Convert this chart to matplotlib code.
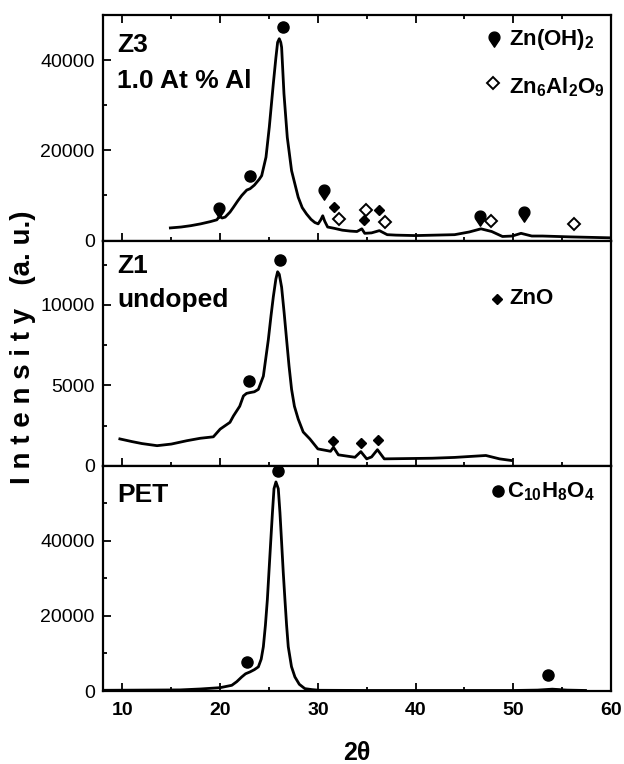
import numpy as np
import matplotlib
matplotlib.use("Agg")
from matplotlib import pyplot as plt
from matplotlib.path import Path
from matplotlib.ticker import MultipleLocator

# ---- values ----
# Z3 (1.0 At % Al)
z3_two_theta = [14.9, 16.0, 17.0, 18.0, 19.0, 19.66, 19.93, 20.2, 20.51, 21.0, 21.36, 21.8,
                22.21, 22.72, 23.06, 23.5, 24.0, 24.25, 24.69, 25.03, 25.44, 25.7, 25.88, 26.05,
                26.2, 26.29, 26.53, 26.87, 27.31, 27.99, 28.4, 28.84, 29.3, 29.69, 30.03, 30.3,
                30.5, 30.7, 31.0, 31.7, 32.5, 33.3, 34.0, 34.5, 34.8, 35.5, 36.3, 37.1, 38.0,
                40.0, 42.0, 44.0, 45.5, 46.7, 47.8, 48.9, 49.9, 50.8, 51.9, 53.0, 56.0, 60.0]
z3_intensity = [2800, 3000, 3300, 3700, 4200, 4600, 5400, 5000, 5200, 6300, 7400, 8800,
                10000, 11200, 11500, 12300, 13600, 14400, 18500, 25200, 34800, 40500, 44000, 44800,
                44000, 42900, 32600, 22900, 15500, 9600, 7300, 5900, 4700, 4000, 3700, 4600,
                5500, 4300, 3000, 2700, 2300, 2100, 2000, 2600, 1600, 1700, 2200, 1300, 1200,
                1100, 1200, 1300, 1900, 2600, 2000, 900, 1000, 1600, 1000, 1000, 800, 600]

# Z1 (undoped)
z1_two_theta = [9.73, 11.0, 12.0, 13.54, 15.0, 16.6, 17.96, 19.3, 20.0, 21.0, 21.36, 22.0,
                22.38, 22.7, 23.06, 23.5, 23.91, 24.42, 24.93, 25.2, 25.44, 25.7, 25.88, 26.05,
                26.29, 26.55, 26.8, 27.05, 27.31, 27.6, 27.99, 28.5, 29.18, 30.0, 30.88, 31.3,
                31.6, 32.1, 33.0, 33.8, 34.4, 35.0, 35.5, 36.1, 36.8, 38.0, 41.7, 44.0, 47.2,
                48.6, 49.8]
z1_intensity = [1670, 1500, 1380, 1250, 1350, 1560, 1710, 1800, 2280, 2700, 3100, 3700,
                4340, 4500, 4550, 4600, 4750, 5570, 7840, 9300, 10500, 11600, 12060, 11900,
                11100, 9500, 7840, 6200, 4750, 3700, 2900, 2100, 1670, 1050, 950, 900,
                1150, 680, 600, 530, 880, 430, 550, 1000, 430, 440, 470, 520, 640,
                430, 330]

# PET substrate
pet_two_theta = [8.1, 12.0, 15.9, 18.0, 20.0, 21.19, 21.7, 22.21, 22.6, 23.06, 23.5, 23.91,
                 24.2, 24.42, 24.63, 24.83, 25.0, 25.17, 25.35, 25.51, 25.71, 25.95, 26.12,
                 26.29, 26.46, 26.63, 26.8, 26.97, 27.3, 27.65, 28.1, 28.67, 29.4, 30.2, 35.0,
                 40.0, 45.0, 50.0, 52.5, 54.0, 55.5, 57.4]
pet_intensity = [200, 250, 300, 550, 900, 1530, 2500, 3760, 4600, 5100, 5700, 6440,
                 8500, 11800, 17500, 24350, 32000, 39580, 47500, 53900, 55700, 53900, 47500,
                 39580, 31500, 24350, 17500, 11800, 6500, 3760, 1800, 640, 380, 200, 150,
                 150, 150, 150, 250, 500, 250, 150]

# phase markers: (2theta, intensity)
z3_pet_x, z3_pet_y = [23.1, 26.4], [14300, 47500]
z3_znoh2_x, z3_znoh2_y = [19.9, 30.65, 46.6, 51.1], [7260, 11200, 5500, 6300]
z3_zno_x, z3_zno_y = [31.7, 34.7, 36.3], [7500, 4600, 6700]
z3_znal_x, z3_znal_y = [32.2, 34.9, 36.9, 47.7, 56.2], [4800, 6800, 4100, 4400, 3600]

z1_pet_x, z1_pet_y = [22.9, 26.1], [5270, 12800]
z1_zno_x, z1_zno_y = [31.6, 34.4, 36.2], [1560, 1420, 1600]

pet_pet_x, pet_pet_y = [22.7, 25.95, 53.6], [7800, 58500, 4200]

plt.rcParams["font.family"] = ["Liberation Sans", "DejaVu Sans"]
plt.rcParams["mathtext.fontset"] = "custom"
plt.rcParams["mathtext.rm"] = "Liberation Sans:bold"
plt.rcParams["mathtext.it"] = "Liberation Sans:bold"
plt.rcParams["mathtext.bf"] = "Liberation Sans:bold"


def pin_marker() -> Path:
    """Teardrop shaped marker: circle with a point underneath."""
    tip = 1.8
    a = np.degrees(np.arccos(1.0 / tip))
    angles = np.radians(np.linspace(-90 + a, 270 - a, 40))
    verts = [(0.0, -tip)] + list(zip(np.cos(angles), np.sin(angles))) + [(0.0, -tip)]
    return Path(verts, closed=True)


PIN = pin_marker()
LINE = dict(color="black", lw=2.0)
DOT = dict(ls="none", marker="o", ms=8, color="black")
PINM = dict(ls="none", marker=PIN, ms=14, color="black")
FDIA = dict(ls="none", marker="D", ms=5, color="black")
ODIA = dict(ls="none", marker="D", ms=6, mfc="white", mec="black", mew=1.4)
BIG = dict(fontsize=19, fontweight="bold")
LEG = dict(fontsize=16, fontweight="bold")

fig, axes = plt.subplots(3, 1, figsize=(6.24, 7.64), dpi=100, sharex=True)
fig.subplots_adjust(left=0.165, right=0.979, top=0.980, bottom=0.0955, hspace=0)
ax_z3, ax_z1, ax_pet = axes

for ax in axes:
    for sp in ax.spines.values():
        sp.set_linewidth(1.6)
    ax.set_xlim(8, 60)
    ax.xaxis.set_major_locator(MultipleLocator(10))
    ax.xaxis.set_minor_locator(MultipleLocator(5))
    ax.tick_params(which="both", direction="in", width=1.3)
    ax.tick_params(which="major", length=6)
    ax.tick_params(which="minor", length=3)
    ax.tick_params(axis="y", labelsize=14, pad=6)
ax_z3.tick_params(axis="x", which="both", top=True)
ax_pet.tick_params(axis="x", labelsize=14, pad=8)
for lab in ax_pet.get_xticklabels():
    lab.set_fontweight("bold")

# Z3 panel
ax_z3.plot(z3_two_theta, z3_intensity, **LINE)
ax_z3.plot(z3_pet_x, z3_pet_y, **DOT)
ax_z3.plot(z3_znoh2_x, z3_znoh2_y, **PINM)
ax_z3.plot(z3_zno_x, z3_zno_y, **FDIA)
ax_z3.plot(z3_znal_x, z3_znal_y, **ODIA)
ax_z3.set_ylim(0, 50000)
ax_z3.yaxis.set_major_locator(MultipleLocator(20000))
ax_z3.yaxis.set_minor_locator(MultipleLocator(10000))
ax_z3.text(0.028, 0.837, "Z3", transform=ax_z3.transAxes, **BIG)
ax_z3.text(0.028, 0.679, "1.0 At % Al", transform=ax_z3.transAxes, **BIG)
ax_z3.plot([0.770], [0.905], transform=ax_z3.transAxes, clip_on=False, **PINM)
ax_z3.text(0.799, 0.867, "Zn(OH)$_2$", transform=ax_z3.transAxes, **LEG)
ax_z3.plot([0.767], [0.698], transform=ax_z3.transAxes, clip_on=False, **ODIA)
ax_z3.text(0.799, 0.653, "Zn$_6$Al$_2$O$_9$", transform=ax_z3.transAxes, **LEG)

# Z1 panel
ax_z1.plot(z1_two_theta, z1_intensity, **LINE)
ax_z1.plot(z1_pet_x, z1_pet_y, clip_on=False, **DOT)
ax_z1.plot(z1_zno_x, z1_zno_y, **FDIA)
ax_z1.set_ylim(0, 14000)
ax_z1.yaxis.set_major_locator(MultipleLocator(5000))
ax_z1.yaxis.set_minor_locator(MultipleLocator(2500))
ax_z1.text(0.028, 0.855, "Z1", transform=ax_z1.transAxes, **BIG)
ax_z1.text(0.028, 0.705, "undoped", transform=ax_z1.transAxes, **BIG)
ax_z1.plot([0.776], [0.740], transform=ax_z1.transAxes, **FDIA)
ax_z1.text(0.801, 0.718, "ZnO", transform=ax_z1.transAxes, **LEG)

# PET panel
ax_pet.plot(pet_two_theta, pet_intensity, **LINE)
ax_pet.plot(pet_pet_x, pet_pet_y, clip_on=False, **DOT)
ax_pet.set_ylim(0, 60000)
ax_pet.set_yticks([0, 20000, 40000])
ax_pet.yaxis.set_minor_locator(MultipleLocator(10000))
ax_pet.text(0.028, 0.840, "PET", transform=ax_pet.transAxes, **BIG)
ax_pet.plot([0.777], [0.890], transform=ax_pet.transAxes, **DOT)
ax_pet.text(0.795, 0.861, "C$_{10}$H$_8$O$_4$", transform=ax_pet.transAxes, **LEG)

fig.text(0.037, 0.545, "I n t e n s i t y   (a. u.)", rotation=90, ha="center", va="center",
         fontsize=20, fontweight="bold")
fig.text(0.572, 0.014, "2\u03b8", ha="center", va="center", fontsize=18, fontweight="bold")

fig.savefig("out.png", dpi=100)
